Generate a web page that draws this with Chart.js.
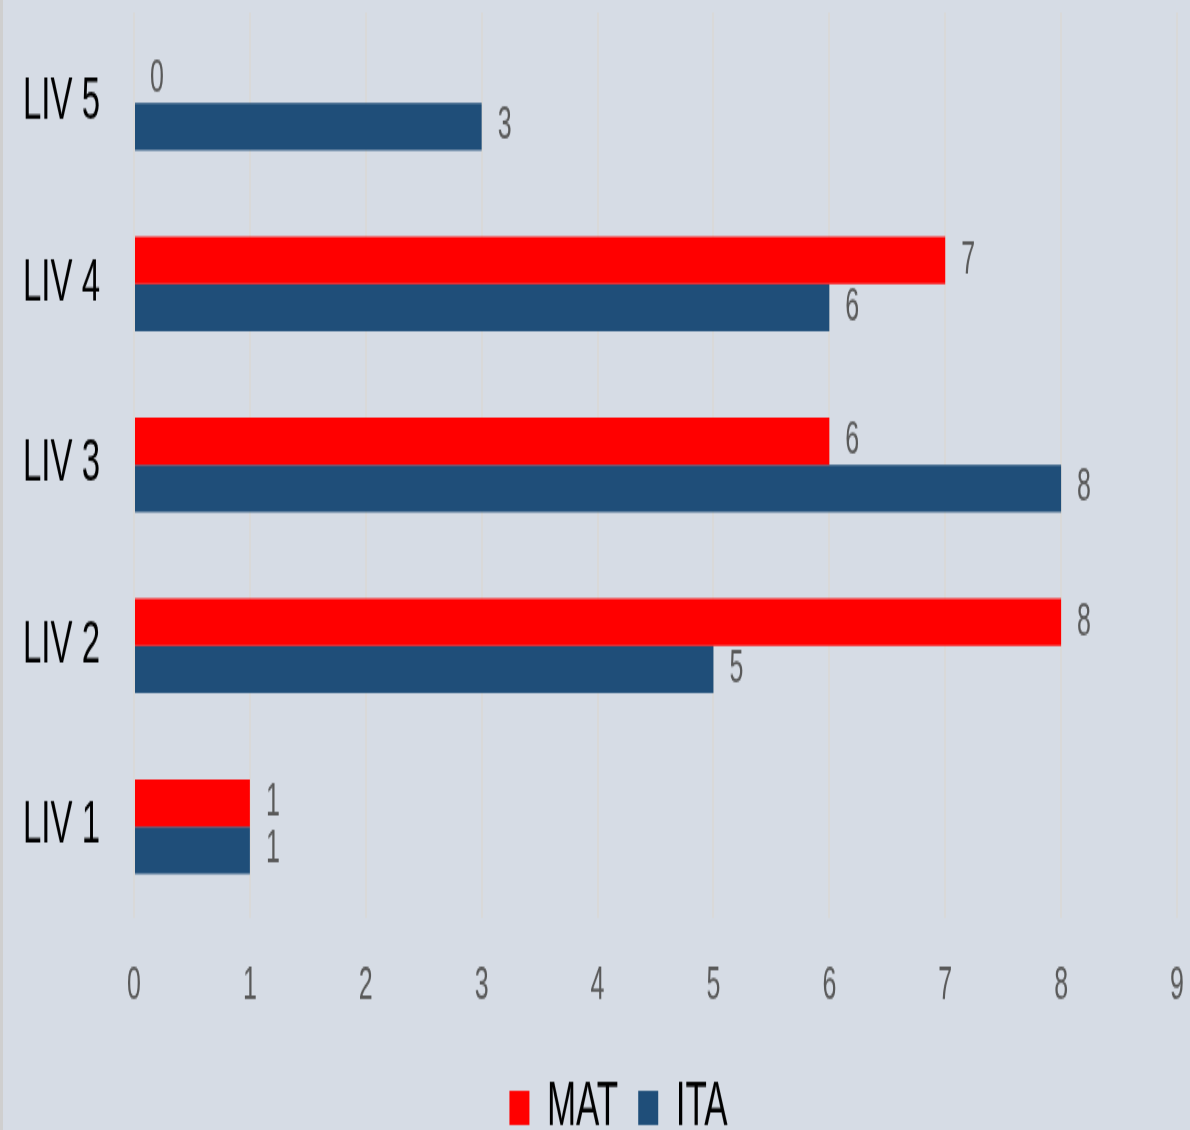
<!DOCTYPE html>
<html>
<head>
<meta charset="utf-8">
<script src="https://cdn.jsdelivr.net/npm/chart.js@4"></script>
<style>
  html, body { margin: 0; padding: 0; background: #d6dce5; }
  #wrap { position: absolute; left: 0; top: 0; width: 1190px; height: 643px; transform: scaleY(1.8); transform-origin: 0 0; }
  #edge { position: absolute; left: 0; top: 0; width: 3px; height: 1130px; background: #cfcfcf; }
</style>
</head>
<body>
<div id="wrap"><canvas id="chart" width="1190" height="643"></canvas></div>
<div id="edge"></div>
<script>
'use strict'

const categories = ['LIV 5', 'LIV 4', 'LIV 3', 'LIV 2', 'LIV 1'];
const matValues = [0, 7, 6, 8, 1];
const itaValues = [3, 6, 8, 5, 1];
const xMin = 0, xMax = 9;

// numbers at the end of each bar
const valueLabels = {
  id: 'valueLabels',
  afterDatasetsDraw(chart) {
    let ctx = chart.ctx;
    ctx.save();
    ctx.font = '25px "Liberation Sans"';
    ctx.fillStyle = '#595959';
    ctx.textAlign = 'left';
    ctx.textBaseline = 'middle';
    chart.data.datasets.forEach((ds, i) => {
      chart.getDatasetMeta(i).data.forEach((bar, j) => {
        ctx.fillText(String(ds.data[j]), bar.x + 16, bar.y);
      });
    });
    ctx.restore();
  }
};

// legend sits a bit right of the canvas centre, under the plot
const legendShift = {
  id: 'legendShift',
  afterLayout(chart) {
    chart.legend.left += 30;
    chart.legend.right += 30;
  }
};

new Chart(document.getElementById('chart'), {
  type: 'bar',
  data: {
    labels: categories,
    datasets: [
      { label: 'MAT', data: matValues, backgroundColor: '#ff0000' },
      { label: 'ITA', data: itaValues, backgroundColor: '#1f4e79' }
    ]
  },
  options: {
    indexAxis: 'y',
    responsive: false,
    devicePixelRatio: 1,
    animation: false,
    categoryPercentage: 0.52,
    barPercentage: 1,
    layout: { padding: { left: 0, right: 13, top: 7, bottom: 0 } },
    plugins: {
      tooltip: { enabled: false },
      legend: {
        position: 'bottom',
        labels: {
          color: '#000',
          font: { family: 'Liberation Sans', size: 35 },
          boxWidth: 20,
          boxHeight: 19,
          padding: 20
        }
      }
    },
    scales: {
      x: {
        min: xMin,
        max: xMax,
        ticks: { stepSize: 1, color: '#595959', padding: 24, font: { family: 'Liberation Sans', size: 25 } },
        grid: { color: '#d9d9d9', lineWidth: 2, drawTicks: false },
        border: { display: false },
        afterFit: (scale) => { scale.height = 68.5; scale.paddingLeft = 0; scale.paddingRight = 0; }
      },
      y: {
        ticks: { color: '#000', padding: 26, font: { family: 'Liberation Sans', size: 33 } },
        grid: { display: false },
        border: { display: false },
        afterFit: (scale) => { scale.width = 134; scale.paddingTop = 0; scale.paddingBottom = 0; }
      }
    }
  },
  plugins: [valueLabels, legendShift]
});
</script>
</body>
</html>
